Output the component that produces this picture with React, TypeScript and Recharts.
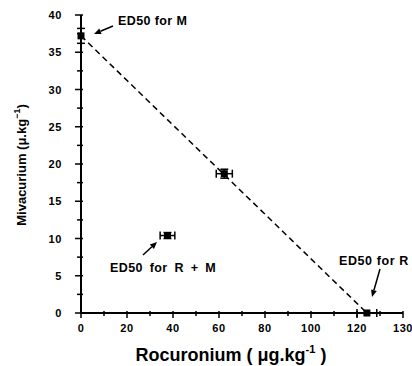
import React from 'react';
import { ScatterChart, Scatter, XAxis, YAxis, ErrorBar, ReferenceLine } from 'recharts';

// ED50 points: M alone, the mixture on the isobole, R + M, R alone
const pointNames = ['ED50 for M', 'isobole', 'ED50 for R + M', 'ED50 for R'];
const rocuronium = [0, 62.3, 37.6, 124.3];
const mivacurium = [37.2, 18.7, 10.4, 0];
const rocuroniumErr = [0, 3.5, 3.2, 4.3];
const mivacuriumErr = [1.0, 0.6, 0.4, 0];

const xTicks = [0, 10, 20, 30, 40, 50, 60, 70, 80, 90, 100, 110, 120, 130, 140];
const xMajorTicks = [0, 20, 40, 60, 80, 100, 120, 140];
const xMajorLabels = ['0', '20', '40', '60', '80', '100', '120', '130'];
const yTicks = [0, 2.5, 5, 7.5, 10, 12.5, 15, 17.5, 20, 22.5, 25, 27.5, 30, 32.5, 35, 37.5, 40];
const yMajorTicks = [0, 5, 10, 15, 20, 25, 30, 35, 40];

const FONT = '"Liberation Sans", Arial, Helvetica, sans-serif';

const data = pointNames.map((name, i) => ({
  name,
  x: rocuronium[i],
  y: mivacurium[i],
  errX: rocuroniumErr[i],
  errY: mivacuriumErr[i],
}));

// additivity line between the two single-drug ED50s
const isobole = [
  { x: rocuronium[0], y: mivacurium[0] },
  { x: rocuronium[3], y: mivacurium[3] },
];

const XTick = (props: any) => {
  const { x, y, payload } = props;
  const i = xMajorTicks.indexOf(payload.value);
  const major = i >= 0;
  return (
    <g>
      <line x1={x} x2={x} y1={y - 2} y2={y + (major ? 5 : 3)} stroke="#000" strokeWidth={1.5} />
      {major && (
        <text x={x} y={y + 19} textAnchor="middle" fontSize={11} letterSpacing={0.6} fontWeight="bold" fontFamily={FONT} fill="#000">
          {xMajorLabels[i]}
        </text>
      )}
    </g>
  );
};

const YTick = (props: any) => {
  const { x, y, payload } = props;
  const major = yMajorTicks.includes(payload.value);
  return (
    <g>
      <line x1={x + 2} x2={x - (major ? 6 : 4)} y1={y} y2={y} stroke="#000" strokeWidth={1.5} />
      {major && (
        <text x={x - 19} y={y + 4} textAnchor="end" fontSize={11} letterSpacing={0.6} fontWeight="bold" fontFamily={FONT} fill="#000">
          {payload.value}
        </text>
      )}
    </g>
  );
};

const Marker = (props: any) => {
  const { cx, cy } = props;
  return <rect x={cx - 3.5} y={cy - 3.5} width={7} height={7} fill="#000" />;
};

function Arrow({ x1, y1, x2, y2 }: { x1: number; y1: number; x2: number; y2: number }) {
  const a = Math.atan2(y2 - y1, x2 - x1);
  const len = 7;
  const w = 3;
  const bx = x2 - len * Math.cos(a);
  const by = y2 - len * Math.sin(a);
  const px = -Math.sin(a) * w;
  const py = Math.cos(a) * w;
  return (
    <g>
      <line x1={x1} y1={y1} x2={bx} y2={by} stroke="#000" strokeWidth={1.5} />
      <polygon points={`${x2},${y2} ${bx + px},${by + py} ${bx - px},${by - py}`} fill="#000" />
    </g>
  );
}

export default function App() {
  return (
    <div style={{ position: 'absolute', left: 0, top: 0, width: 412, height: 366, background: '#fff' }}>
      <ScatterChart width={412} height={366} margin={{ top: 15, right: 9, bottom: 23, left: 41 }}>
        <XAxis
          type="number"
          dataKey="x"
          domain={[0, 140]}
          ticks={xTicks}
          interval={0}
          tickSize={0}
          tickMargin={0}
          tick={<XTick />}
          height={30}
          axisLine={{ stroke: '#000', strokeWidth: 2 }}
          tickLine={false}
        />
        <YAxis
          type="number"
          dataKey="y"
          domain={[0, 40]}
          ticks={yTicks}
          interval={0}
          tickSize={0}
          tickMargin={0}
          tick={<YTick />}
          width={40}
          axisLine={{ stroke: '#000', strokeWidth: 2 }}
          tickLine={false}
        />
        <ReferenceLine
          segment={isobole}
          stroke="#000"
          strokeWidth={1.5}
          strokeDasharray="6 4"
        />
        <Scatter data={data} shape={<Marker />} isAnimationActive={false}>
          <ErrorBar dataKey="errX" direction="x" width={4} stroke="#000" strokeWidth={1.5} />
          <ErrorBar dataKey="errY" direction="y" width={4} stroke="#000" strokeWidth={1.5} />
        </Scatter>
      </ScatterChart>
      <svg
        width={412}
        height={366}
        style={{ position: 'absolute', left: 0, top: 0, pointerEvents: 'none' }}
        fontFamily={FONT}
        fontWeight="bold"
      >
        <text x={118} y={25} fontSize={12.5} letterSpacing={0.4}>{pointNames[0]}</text>
        <Arrow x1={113} y1={26} x2={94} y2={34} />
        <text x={110} y={272} fontSize={12.5} letterSpacing={0.4} wordSpacing={3}>{pointNames[2]}</text>
        <Arrow x1={143} y1={255} x2={157} y2={242} />
        <text x={339} y={265} fontSize={12.5} letterSpacing={0.6}>{pointNames[3]}</text>
        <Arrow x1={380} y1={269} x2={372} y2={297} />
        <text transform="translate(26,165) rotate(-90)" textAnchor="middle" fontSize={13}>
          Mivacurium (μ.kg<tspan dy={-6} fontSize={9}>−1</tspan>
          <tspan dy={6}>)</tspan>
        </text>
        <text x={231} y={361} textAnchor="middle" fontSize={18}>
          Rocuronium ( μg.kg<tspan dy={-8} fontSize={11}>-1</tspan>
          <tspan dy={8}> )</tspan>
        </text>
      </svg>
    </div>
  );
}
